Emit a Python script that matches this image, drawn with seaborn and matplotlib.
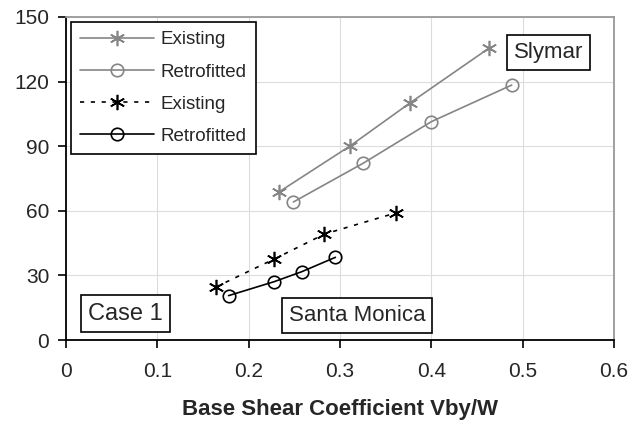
import matplotlib
matplotlib.use("Agg")
import matplotlib.pyplot as plt
import pandas as pd
import seaborn as sns

# ── data ─────────────────────────────────────────────────────────────────────
sly_exist_x = [0.233, 0.311, 0.377, 0.463]
sly_exist_y = [68.7, 90.1, 110.2, 135.5]
sly_retro_x = [0.249, 0.325, 0.400, 0.488]
sly_retro_y = [64.1, 82.0, 101.4, 118.4]
sm_exist_x = [0.164, 0.228, 0.283, 0.361]
sm_exist_y = [24.6, 37.6, 49.2, 59.0]
sm_retro_x = [0.178, 0.228, 0.258, 0.295]
sm_retro_y = [20.6, 27.1, 31.7, 38.4]

x_ticks = [0, 0.1, 0.2, 0.3, 0.4, 0.5, 0.6]
x_labels = ["0", "0.1", "0.2", "0.3", "0.4", "0.5", "0.6"]
y_ticks = [0, 30, 60, 90, 120, 150]

GREY = "#858585"
ASTER = (6, 2, 0)

sns.set_theme(style="white")
plt.rcParams["font.family"] = ["Liberation Sans", "DejaVu Sans"]

fig = plt.figure(figsize=(6.42, 4.32), dpi=100)
ax = fig.add_axes([66 / 642, 92 / 432, 548 / 642, 323 / 432])

series = [
    (sly_exist_x, sly_exist_y, "Existing", GREY, "-", ASTER, 11),
    (sly_retro_x, sly_retro_y, "Retrofitted", GREY, "-", "o", 9),
    (sm_exist_x, sm_exist_y, "Existing", "black", (0, (2.5, 4)), ASTER, 11),
    (sm_retro_x, sm_retro_y, "Retrofitted", "black", "-", "o", 9),
]
for xs, ys, lab, col, ls, mk, ms in series:
    df = pd.DataFrame({"x": xs, "y": ys})
    sns.lineplot(data=df, x="x", y="y", ax=ax, sort=False, label=lab,
                 color=col, linestyle=ls, linewidth=1.2,
                 marker=mk, markersize=ms, markerfacecolor="none",
                 markeredgecolor=col, markeredgewidth=1.2)

ax.set_xlim(0, 0.6)
ax.set_ylim(0, 150)
ax.set_xticks(x_ticks)
ax.set_xticklabels(x_labels)
ax.set_yticks(y_ticks)
ax.grid(True, color="#dcdcdc", linewidth=0.8)
ax.set_axisbelow(True)

for s in ["left", "bottom"]:
    ax.spines[s].set_color("black")
    ax.spines[s].set_linewidth(1.3)
for s in ["top", "right"]:
    ax.spines[s].set_color("#999999")
    ax.spines[s].set_linewidth(1.3)
    ax.spines[s].set_visible(True)

ax.tick_params(axis="x", direction="out", length=6, width=1.2, color="black",
               labelsize=15, pad=10, bottom=True)
ax.tick_params(axis="y", direction="out", length=6, width=1.2, color="black",
               labelsize=15, pad=6, left=True)

ax.set_xlabel("Base Shear Coefficient Vby/W", fontsize=16, fontweight="bold",
              labelpad=13)
ax.set_ylabel("")

leg = ax.legend(loc="upper left", bbox_to_anchor=(5 / 548, 1 - 5 / 323),
                fontsize=13.5, frameon=True, fancybox=False, framealpha=1,
                edgecolor="black", handlelength=3.9, labelspacing=0.8,
                borderpad=0.5, handletextpad=0.4, borderaxespad=0)
leg.get_frame().set_linewidth(1.2)

box = dict(boxstyle="square,pad=0.3", fc="white", ec="black", lw=1.2)
ax.text(0.528, 133.5, "Slymar", fontsize=16, ha="center", va="center", bbox=box)
ax.text(0.319, 11.4, "Santa Monica", fontsize=16, ha="center", va="center", bbox=box)
ax.text(0.065, 12.3, "Case 1", fontsize=17, ha="center", va="center", bbox=box)

plt.savefig("out.png", dpi=100)
plt.close()
